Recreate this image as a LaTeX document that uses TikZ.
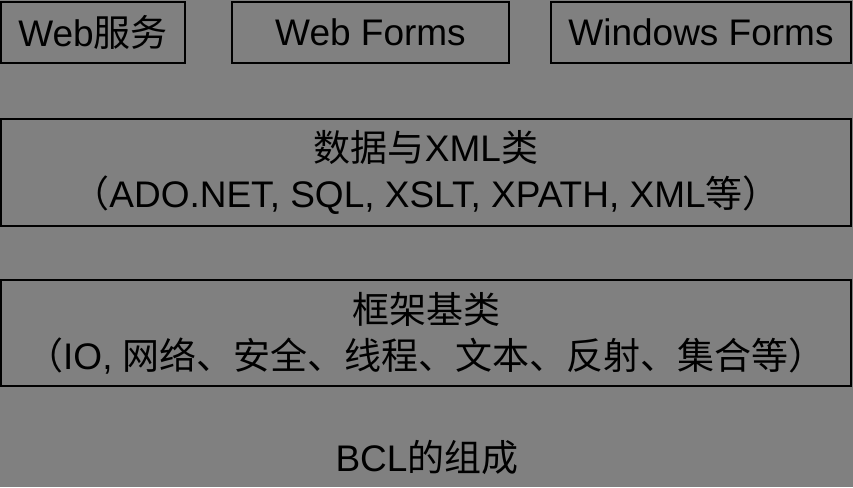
\documentclass[tikz,border=0pt]{standalone}
\usepackage{fontspec}
\setmainfont{Liberation Sans}
\newfontfamily\cjk{Noto Sans CJK SC}
\newcommand{\cn}[1]{{\cjk #1}}
\tikzset{
  layer/.style={draw=black, line width=1.5pt, fill=black!50, inner sep=0pt, align=center,
    font=\fontsize{27.75}{34.5}\selectfont},
}
\begin{document}
\begin{tikzpicture}[x=0.75pt, y=-0.75pt]
	\useasboundingbox[fill=black!50](0, 0) rectangle (853, 487);%Hintergrund
	\node[layer, minimum width=138pt, minimum height=45.75pt] (websvc) at (93, 32.5) {Web\cn{服务}};
	\node[layer, minimum width=207.75pt, minimum height=45.75pt] (webforms) at (370.5, 32.5) {Web Forms};
	\node[layer, minimum width=225pt, minimum height=45.75pt] (winforms) at (701, 32.5) {Windows Forms};
	\node[layer, minimum width=637.5pt, minimum height=80.25pt] (data) at (426, 172.5)
		{\cn{数据与}XML\cn{类}\\\cn{（}ADO.NET, SQL, XSLT, XPATH, XML\cn{等）}};
	\node[layer, minimum width=637.5pt, minimum height=79.5pt] (base) at (426, 333)
		{\cn{框架基类}\\\cn{（}IO, \cn{网络、安全、线程、文本、反射、集合等）}};
	\node[font=\fontsize{27.75}{34.5}\selectfont] (title) at (427, 457) {BCL\cn{的组成}};%Titel
\end{tikzpicture}
\end{document}
